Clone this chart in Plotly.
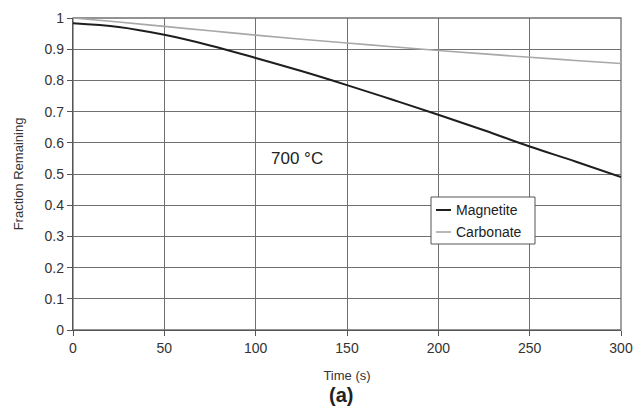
import plotly.graph_objects as go

time_s = [0, 25, 50, 75, 100, 125, 150, 175, 200, 225, 250, 275, 300]
magnetite = [0.983, 0.971, 0.946, 0.912, 0.872, 0.830, 0.785, 0.738, 0.690, 0.640, 0.588, 0.540, 0.490]
carbonate = [1.000, 0.987, 0.973, 0.959, 0.945, 0.932, 0.920, 0.908, 0.896, 0.885, 0.874, 0.864, 0.854]

x_ticks = [0, 50, 100, 150, 200, 250, 300]
y_ticks = [0, 0.1, 0.2, 0.3, 0.4, 0.5, 0.6, 0.7, 0.8, 0.9, 1]
y_tick_labels = ["0", "0.1", "0.2", "0.3", "0.4", "0.5", "0.6", "0.7", "0.8", "0.9", "1"]

FONT = "Liberation Sans, Arial, sans-serif"
GRID = "#707070"

fig = go.Figure()
fig.add_trace(go.Scatter(x=time_s, y=carbonate, mode="lines", name="Carbonate",
                         line=dict(color="#a8a8a8", width=1.6, shape="spline"), showlegend=False))
fig.add_trace(go.Scatter(x=time_s, y=magnetite, mode="lines", name="Magnetite",
                         line=dict(color="#1e1e1e", width=2, shape="spline"), showlegend=False))

fig.update_layout(
    width=636, height=417,
    margin=dict(l=73, r=15, t=18, b=87),
    paper_bgcolor="white", plot_bgcolor="white",
    font=dict(family=FONT, size=14, color="#333333"),
    xaxis=dict(range=[0, 300], tickvals=x_ticks, showgrid=True, gridcolor=GRID, gridwidth=1.3,
               zeroline=False, showline=True, linecolor="#555555", linewidth=1.3,
               ticks="outside", ticklen=5, tickcolor="#555555", automargin=False,
               tickfont=dict(size=14), ticklabeloverflow="allow",
               title=dict(text="Time (s)", font=dict(size=13), standoff=15)),
    yaxis=dict(range=[0, 1], tickvals=y_ticks, ticktext=y_tick_labels, showgrid=True,
               gridcolor=GRID, gridwidth=1.3, zeroline=False, showline=True, automargin=False,
               linecolor="#555555", linewidth=1.3, ticks="outside", ticklen=5, tickcolor="#555555",
               tickfont=dict(size=14),
               title=dict(text="Fraction Remaining", font=dict(size=13), standoff=18)),
)

fig.add_shape(type="rect", xref="paper", yref="paper", x0=0, y0=0, x1=1, y1=1,
              line=dict(color=GRID, width=1.3), layer="below")

def px(x):
    return (x - 73) / 548
def py(y):
    return (330 - y) / 312

fig.add_annotation(text="700 °C", x=px(297), y=py(159), xref="paper", yref="paper",
                   xanchor="center", yanchor="middle",
                   showarrow=False, font=dict(size=17, color="#222222"))
fig.add_annotation(text="<b>(a)</b>", x=px(341), y=py(395), xref="paper", yref="paper",
                   xanchor="center", yanchor="middle",
                   showarrow=False, font=dict(size=20, color="#222222"))

# custom legend
lx0, lx1, ly0, ly1 = 431, 535, 197, 244
fig.add_shape(type="rect", xref="paper", yref="paper", x0=px(lx0), x1=px(lx1), y0=py(ly1), y1=py(ly0),
              line=dict(color="#555555", width=1), fillcolor="white", layer="above")
for name, color, ypix, w in [("Magnetite", "#1e1e1e", 210, 2), ("Carbonate", "#a8a8a8", 232, 1.6)]:
    fig.add_shape(type="line", xref="paper", yref="paper", x0=px(436), x1=px(451), y0=py(ypix), y1=py(ypix),
                  line=dict(color=color, width=w))
    fig.add_annotation(text=name, x=px(454), y=py(ypix), xref="paper", yref="paper", xanchor="left",
                       yanchor="middle", showarrow=False, font=dict(size=14, color="#222222"))

fig.write_html("out.html", config={"displayModeBar": False},
               post_script="document.body.style.margin='0';document.body.style.overflow='hidden';")
